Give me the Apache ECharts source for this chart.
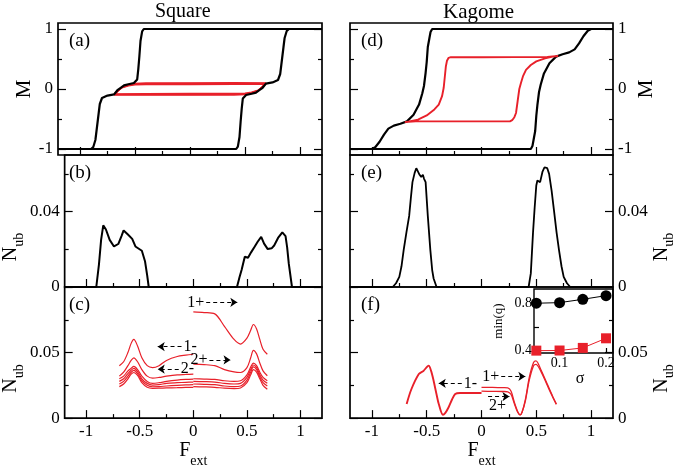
<!DOCTYPE html>
<html>
<head>
<meta charset="utf-8">
<script src="https://cdn.jsdelivr.net/npm/echarts@6/dist/echarts.min.js"></script>
<style>html,body{margin:0;background:#fff}#chart{width:679px;height:469px}</style>
</head>
<body>
<div id="chart"></div>
<script>
// ---- data ----
// (a) square lattice, M vs F_ext
const sqDown = [[1.2,1],[-0.42,1],[-0.435,0.96],[-0.45,0.8],[-0.46,0.55],[-0.47,0.33],[-0.48,0.16],[-0.51,0.1],[-0.56,0.08],[-0.6,0.06],[-0.63,0.02],[-0.66,-0.02],[-0.69,-0.09],[-0.75,-0.11],[-0.8,-0.15],[-0.82,-0.25],[-0.83,-0.4],[-0.85,-0.7],[-0.86,-0.85],[-0.88,-0.97],[-0.9,-1],[-1.2,-1]];
const sqUp = [[-1.2,-1],[0.42,-1],[0.435,-0.96],[0.45,-0.8],[0.46,-0.55],[0.47,-0.33],[0.48,-0.16],[0.51,-0.1],[0.56,-0.08],[0.6,-0.06],[0.63,-0.02],[0.66,0.02],[0.69,0.09],[0.75,0.11],[0.8,0.15],[0.82,0.25],[0.83,0.4],[0.85,0.7],[0.86,0.85],[0.88,0.97],[0.9,1],[1.2,1]];
const sqRed1 = [[-0.69,-0.1],[-0.4,-0.1],[0,-0.1],[0.4,-0.097],[0.5,-0.092],[0.56,-0.072],[0.62,-0.032],[0.66,0.04],[0.69,0.1],[0.4,0.102],[0,0.1],[-0.4,0.097],[-0.5,0.092],[-0.56,0.072],[-0.62,0.032],[-0.66,-0.04],[-0.69,-0.1]];
const sqRed2 = [[-0.69,-0.092],[-0.4,-0.09],[0,-0.088],[0.4,-0.087],[0.5,-0.083],[0.56,-0.064],[0.62,-0.026],[0.66,0.04],[0.69,0.092],[0.4,0.09],[0,0.088],[-0.4,0.087],[-0.5,0.083],[-0.56,0.064],[-0.62,0.026],[-0.66,-0.04],[-0.69,-0.092]];
const sqRed3 = [[-0.69,-0.085],[-0.4,-0.08],[0,-0.078],[0.4,-0.077],[0.5,-0.074],[0.56,-0.056],[0.62,-0.02],[0.66,0.035],[0.69,0.085],[0.4,0.08],[0,0.078],[-0.4,0.077],[-0.5,0.074],[-0.56,0.056],[-0.62,0.02],[-0.66,-0.035],[-0.69,-0.085]];

// (d) kagome lattice, M vs F_ext
const kgDown = [[1.2,1],[-0.45,1],[-0.465,0.95],[-0.475,0.85],[-0.49,0.7],[-0.5,0.45],[-0.51,0.27],[-0.525,0.05],[-0.54,-0.07],[-0.57,-0.26],[-0.62,-0.43],[-0.68,-0.54],[-0.74,-0.58],[-0.8,-0.61],[-0.85,-0.66],[-0.89,-0.76],[-0.93,-0.88],[-0.97,-0.97],[-1.0,-1],[-1.2,-1]];
const kgUp = [[-1.2,-1],[0.45,-1],[0.465,-0.95],[0.475,-0.85],[0.49,-0.7],[0.5,-0.45],[0.51,-0.27],[0.525,-0.05],[0.54,0.07],[0.57,0.26],[0.62,0.43],[0.68,0.54],[0.74,0.58],[0.8,0.61],[0.85,0.66],[0.89,0.76],[0.93,0.88],[0.97,0.97],[1.0,1],[1.2,1]];
const kgRed = [[-0.7,-0.55],[-0.6,-0.54],[0,-0.54],[0.26,-0.54],[0.28,-0.52],[0.3,-0.47],[0.315,-0.4],[0.33,-0.2],[0.345,0],[0.36,0.1],[0.38,0.22],[0.406,0.32],[0.45,0.4],[0.5,0.46],[0.58,0.51],[0.65,0.54],[0.7,0.55],[0.6,0.535],[0,0.53],[-0.28,0.53],[-0.3,0.52],[-0.315,0.47],[-0.325,0.38],[-0.335,0.2],[-0.345,0.02],[-0.36,-0.12],[-0.39,-0.26],[-0.43,-0.34],[-0.5,-0.44],[-0.58,-0.51],[-0.68,-0.55],[-0.7,-0.55]];

// (b) square N_ub
const sqNub = [[-1.2,0],[-0.905,0],[-0.88,0.012],[-0.86,0.025],[-0.84,0.0327],[-0.815,0.0305],[-0.78,0.025],[-0.74,0.0215],[-0.7,0.0228],[-0.67,0.027],[-0.65,0.03],[-0.61,0.0278],[-0.57,0.0255],[-0.54,0.0215],[-0.48,0.0192],[-0.45,0.0135],[-0.43,0.006],[-0.416,0],[0.407,0],[0.43,0.005],[0.45,0.009],[0.48,0.016],[0.51,0.0155],[0.54,0.0185],[0.573,0.0215],[0.6,0.024],[0.633,0.0266],[0.66,0.023],[0.694,0.0201],[0.73,0.0205],[0.754,0.022],[0.79,0.026],[0.83,0.029],[0.86,0.027],[0.875,0.021],[0.89,0.0125],[0.92,0],[1.2,0]];
// (e) kagome N_ub
const kgNub = [[-1.2,0],[-0.81,0],[-0.78,0.002],[-0.75,0.0054],[-0.73,0.011],[-0.71,0.0197],[-0.685,0.029],[-0.66,0.0377],[-0.645,0.047],[-0.63,0.0556],[-0.61,0.0605],[-0.595,0.063],[-0.58,0.0628],[-0.565,0.0595],[-0.55,0.0583],[-0.535,0.0595],[-0.525,0.0575],[-0.51,0.0556],[-0.49,0.0377],[-0.467,0.0197],[-0.45,0.009],[-0.437,0.0045],[-0.41,0],[0.43,0],[0.45,0.0072],[0.47,0.0287],[0.485,0.042],[0.5,0.0538],[0.51,0.0565],[0.52,0.0555],[0.535,0.0556],[0.556,0.061],[0.575,0.0635],[0.587,0.0643],[0.6,0.063],[0.617,0.06],[0.64,0.051],[0.66,0.0413],[0.685,0.029],[0.707,0.0197],[0.73,0.011],[0.75,0.0054],[0.78,0.002],[0.81,0],[1.2,0]];

// (c) square, minor loops
const cLeftF = [-0.69,-0.65,-0.61,-0.58,-0.555,-0.52,-0.48,-0.43,-0.38,-0.32,-0.25,-0.15,-0.07,0];
const cL1 = [0.040,0.043,0.050,0.057,0.060,0.055,0.046,0.040,0.0385,0.040,0.044,0.047,0.048,0.0487];
const cL2 = [0.032,0.035,0.040,0.044,0.046,0.043,0.037,0.032,0.0305,0.031,0.032,0.033,0.0333,0.0336];
const cL3 = [0.030,0.032,0.036,0.038,0.0394,0.037,0.032,0.028,0.0265,0.027,0.028,0.029,0.0295,0.0298];
const cL4 = [0.028,0.030,0.034,0.0365,0.0379,0.0355,0.030,0.0265,0.0252,0.0255,0.0265,0.027,0.0273,0.0275];
const cL5 = [0.026,0.028,0.032,0.035,0.0364,0.034,0.0285,0.025,0.0239,0.024,0.0245,0.025,0.0253,0.0255];
const cL6 = [0.024,0.026,0.030,0.0335,0.0348,0.0325,0.027,0.0235,0.0227,0.0228,0.023,0.0232,0.0234,0.0235];
const cRightF = [0,0.1,0.2,0.29,0.38,0.44,0.5,0.535,0.56,0.59,0.62,0.65,0.69];
const cR1 = [0.081,0.0805,0.0795,0.070,0.060,0.0565,0.061,0.067,0.0714,0.068,0.060,0.0525,0.0487];
const cR2 = [0.0411,0.0408,0.040,0.037,0.0352,0.0348,0.0385,0.046,0.0517,0.049,0.042,0.036,0.0323];
const cR3 = [0.030,0.0298,0.0295,0.0285,0.028,0.0285,0.033,0.039,0.042,0.040,0.035,0.031,0.0285];
const cR4 = [0.028,0.0278,0.0275,0.0265,0.026,0.0265,0.031,0.037,0.0405,0.0385,0.033,0.029,0.0265];
const cR5 = [0.026,0.0258,0.0255,0.0245,0.024,0.0245,0.029,0.035,0.039,0.037,0.0315,0.027,0.0245];
const cR6 = [0.024,0.0238,0.0235,0.0228,0.0225,0.023,0.027,0.033,0.037,0.035,0.030,0.025,0.022];

// (f) kagome, minor loops
const fLeftF = [-0.683,-0.64,-0.572,-0.53,-0.482,-0.46,-0.437,-0.41,-0.39,-0.352,-0.33,-0.3,-0.27,-0.24,-0.196,-0.1,0];
const fL1 = [0.0108,0.022,0.0336,0.036,0.040,0.036,0.0285,0.018,0.0108,0.0025,0.004,0.0083,0.014,0.0184,0.0192,0.0192,0.0192];
const fRightF = [0,0.1,0.2,0.24,0.27,0.3,0.33,0.352,0.37,0.4,0.436,0.475,0.497,0.54,0.6,0.647,0.683];
const fR1 = [0.0235,0.0234,0.0232,0.023,0.0205,0.012,0.005,0.0025,0.0045,0.014,0.031,0.0424,0.0436,0.0373,0.026,0.0171,0.0108];
const fR2 = [0.0205,0.0204,0.0203,0.020,0.018,0.011,0.0045,0.0025,0.0045,0.013,0.029,0.040,0.041,0.036,0.025,0.0165,0.0105];

// inset: min(q) vs sigma
const sigma = [0.05, 0.1, 0.15, 0.2];
const minqBlack = [0.8, 0.805, 0.833, 0.864];
const minqRed = [0.4, 0.401, 0.423, 0.504];

// annotation arrows [x0, y0, x1, y1, text]
const arrowsC = [[0.12,0.0883,0.41,0.0883,'1+'],[-0.11,0.0545,-0.332,0.0545,'1-'],[0.15,0.0444,0.347,0.0444,'2+'],[-0.136,0.0373,-0.332,0.0373,'2-']];
const arrowsF = [[-0.18,0.0265,-0.39,0.0265,'1-'],[0.18,0.0318,0.4,0.0318,'1+'],[0.06,0.0164,0.255,0.0164,'2+','insideStartBottom']];

// tick values
const xMajor = [-1, -0.5, 0, 0.5, 1];
const xMinor = [-0.75, -0.25, 0.25, 0.75];
const mMajor = [-1, 0, 1], mMinor = [-0.5, 0.5];
const n1Major = [0, 0.04], n1Minor = [0.02, 0.06];
const n2Major = [0, 0.05], n2Minor = [0.025, 0.075];

// ---- chart ----
const FONT = 'Liberation Serif';
const RED = '#e8202a';
const RICH = {
  m: {fontSize: 21, fontFamily: FONT, color: '#000'},
  n: {fontSize: 20, fontFamily: FONT, color: '#000'},
  s: {fontSize: 14, fontFamily: FONT, color: '#000', padding: [16, 0, 0, 0]},
  e: {fontSize: 14, fontFamily: FONT, color: '#000', padding: [20, 0, 0, 0]}
};

const grids = [], xAxes = [], yAxes = [], series = [];

function zip(xs, ys) { return xs.map((x, i) => [x, ys[i]]); }

function mkAxis(grid, min, max, ticks, len, pos, labels, extra) {
  const a = {
    type: 'value', gridIndex: grid, min: min, max: max, position: pos,
    axisLine: {show: false, onZero: false}, splitLine: {show: false},
    axisTick: {show: true, inside: true, length: len, customValues: ticks, lineStyle: {color: '#000', width: 1.2}},
    axisLabel: {show: false}
  };
  if (labels) a.axisLabel = {show: true, customValues: labels, color: '#000', fontFamily: FONT, fontSize: 17, margin: 5};
  return Object.assign(a, extra || {});
}

function yName(text, gap, shift) {
  return {name: text, nameLocation: 'middle', nameRotate: 90, nameGap: gap,
    nameTextStyle: {color: '#000', fontFamily: FONT, padding: [0, shift, 0, 0], rich: RICH}};
}
const fName = {name: '{n|F}{e|ext}', nameLocation: 'middle', nameGap: 12,
  nameTextStyle: {color: '#000', fontFamily: FONT, rich: RICH}};

function addPanel(box, yr, yMaj, yMin, side, showX, nm) {
  const g = grids.length;
  grids.push({left: box[0], top: box[1], width: box[2], height: box[3], show: true, borderColor: '#000', borderWidth: 1.7});
  const xi = xAxes.length;
  xAxes.push(mkAxis(g, -1.2, 1.2, xMajor, 8, 'bottom', showX ? xMajor : null, showX ? fName : null));
  xAxes.push(mkAxis(g, -1.2, 1.2, xMinor, 4, 'bottom'));
  const yi = yAxes.length;
  const other = side === 'left' ? 'right' : 'left';
  yAxes.push(mkAxis(g, yr[0], yr[1], yMaj, 8, side, yMaj, nm));
  yAxes.push(mkAxis(g, yr[0], yr[1], yMin, 4, side));
  yAxes.push(mkAxis(g, yr[0], yr[1], yMaj, 8, other));
  yAxes.push(mkAxis(g, yr[0], yr[1], yMin, 4, other));
  return {xAxisIndex: xi, yAxisIndex: yi};
}

function line(ax, data, color, width, extra) {
  return Object.assign({type: 'line', xAxisIndex: ax.xAxisIndex, yAxisIndex: ax.yAxisIndex, data: data,
    symbol: 'none', silent: true, animation: false, lineStyle: {color: color, width: width}, itemStyle: {color: color}}, extra || {});
}

function arrows(list) {
  return {silent: true, symbol: ['none', 'arrow'], symbolSize: 7, animation: false,
    lineStyle: {color: '#000', width: 1, type: [4, 3]},
    label: {show: true, position: 'start', distance: 2, formatter: '{b}', color: '#000', fontFamily: FONT, fontSize: 16},
    emphasis: {disabled: true},
    data: list.map(a => [{coord: [a[0], a[1]], name: a[4], label: a[5] ? {position: a[5], distance: 1} : undefined}, {coord: [a[2], a[3]]}])};
}

const L = 58, R = 350, W = 264, H = 132;
const nubL = yName('{n|N}{s|ub}', 20, 52);
const nubR = yName('{n|N}{s|ub}', 12, 52);

const pa = addPanel([L, 23, W, H], [-1.1, 1.1], mMajor, mMinor, 'left', false, yName('{m|M}', 19, 0));
const pb = addPanel([L, 155, W, H], [0, 0.07], n1Major, n1Minor, 'left', false, nubL);
const pc = addPanel([L, 287, W, H], [0, 0.1], n2Major, n2Minor, 'left', true, nubL);
const pd = addPanel([R, 23, W - 1, H], [-1.1, 1.1], mMajor, mMinor, 'right', false, yName('{m|M}', 20, 0));
const pe = addPanel([R, 155, W - 1, H], [0, 0.07], n1Major, n1Minor, 'right', false, nubR);
const pf = addPanel([R, 287, W - 1, H], [0, 0.1], n2Major, n2Minor, 'right', true, nubR);

[sqRed1, sqRed2, sqRed3].forEach(d => series.push(line(pa, d, RED, 1.7)));
series.push(line(pa, sqDown, '#000', 2.2), line(pa, sqUp, '#000', 2.2));
series.push(line(pd, kgDown, '#000', 2.2), line(pd, kgUp, '#000', 2.2));
series.push(line(pd, kgRed, RED, 1.9));
series.push(line(pb, sqNub, '#000', 2));
series.push(line(pe, kgNub, '#000', 1.8));

[cL1, cL2, cL3, cL4, cL5, cL6].forEach(d => series.push(line(pc, zip(cLeftF, d), RED, 1.2, {smooth: 0.3})));
[cR1, cR2, cR3, cR4, cR5, cR6].forEach(d => series.push(line(pc, zip(cRightF, d), RED, 1.2, {smooth: 0.3})));
series[series.length - 1].markLine = arrows(arrowsC);

series.push(line(pf, zip(fLeftF, fL1), RED, 1.9, {smooth: 0.3}));
[fR1, fR2].forEach(d => series.push(line(pf, zip(fRightF, d), RED, 1.3, {smooth: 0.3})));
series[series.length - 1].markLine = arrows(arrowsF);

// inset
const gi = grids.length;
grids.push({left: 534, top: 289, width: 79, height: 64, show: true, borderColor: '#000', borderWidth: 1.4});
const ixi = xAxes.length;
xAxes.push(mkAxis(gi, 0.045, 0.215, [0.1, 0.2], 5, 'bottom', [0.1, 0.2],
  {name: 'σ', nameLocation: 'middle', nameGap: 3, nameTextStyle: {color: '#000', fontFamily: FONT, fontSize: 16, padding: [0, 0, 0, 13]}}));
xAxes[ixi].axisLabel.fontSize = 14; xAxes[ixi].axisLabel.margin = 3;
const iyi = yAxes.length;
yAxes.push(mkAxis(gi, 0.38, 0.92, [0.4, 0.6, 0.8], 5, 'left', [0.4, 0.8],
  {name: 'min(q)', nameLocation: 'middle', nameRotate: 90, nameGap: 29, nameTextStyle: {color: '#000', fontFamily: FONT, fontSize: 13}}));
yAxes[iyi].axisLabel.fontSize = 14; yAxes[iyi].axisLabel.margin = 2;
const inset = {xAxisIndex: ixi, yAxisIndex: iyi};
series.push(line(inset, zip(sigma, minqBlack), '#000', 1, {symbol: 'circle', symbolSize: 11, clip: false}));
series.push(line(inset, zip(sigma, minqRed), RED, 1, {symbol: 'rect', symbolSize: 10, clip: false}));

const txt = (x, y, t, size) => ({type: 'text', left: x, top: y, silent: true,
  style: {text: t, fill: '#000', font: size + 'px "' + FONT + '"'}});

const option = {
  animation: false,
  backgroundColor: '#fff',
  textStyle: {fontFamily: FONT},
  grid: grids,
  xAxis: xAxes,
  yAxis: yAxes,
  series: series,
  graphic: [
    txt(155, 2, 'Square', 20), txt(443, 2, 'Kagome', 21),
    txt(69, 32, '(a)', 19), txt(69, 164, '(b)', 19), txt(69, 296, '(c)', 19),
    txt(361, 32, '(d)', 19), txt(361, 164, '(e)', 19), txt(361, 296, '(f)', 19)
  ]
};

const chart = echarts.init(document.getElementById('chart'), null, {renderer: 'canvas'});
chart.setOption(option);
</script>
</body>
</html>
